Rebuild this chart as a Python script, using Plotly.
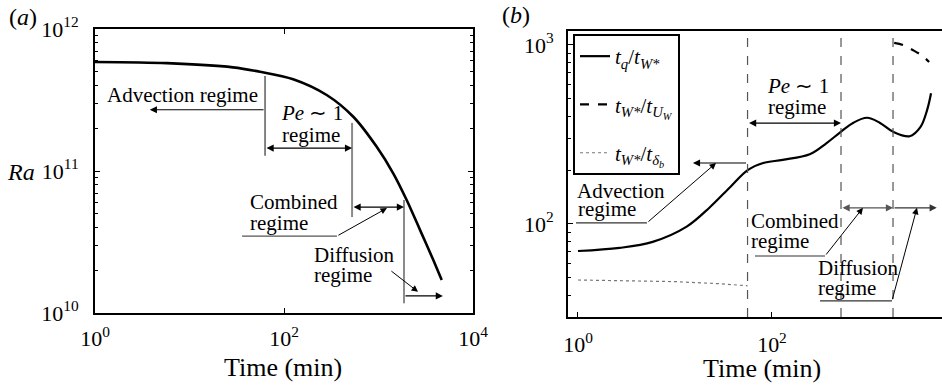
import numpy as np
import plotly.graph_objects as go

# ---------------- data ----------------
# Panel (a): Rayleigh number vs time
time_a = [1, 5.75, 28.8, 55.7, 125, 283, 541, 957, 1436, 1986, 2748, 3802, 4667]
ra_a = [5.86e11, 5.75e11, 5.37e11, 5.0e11, 4.43e11, 3.43e11, 2.41e11, 1.48e11,
        9.6e10, 6.25e10, 3.85e10, 2.36e10, 1.71e10]
bounds_a = [63, 525, 1860]

# Panel (b): time-scale ratios
time_q = [1, 2.69, 5.89, 13.2, 22.9, 37.2, 56.2, 81.3, 129, 245, 363, 501, 692,
          955, 1288, 1778, 2630, 3388, 3981, 4365]
tq_tw = [70.6, 73.5, 79.4, 96.6, 124, 161, 200, 219, 228, 245, 282, 324, 368,
         392, 368, 327, 309, 347, 434, 537]
time_u = [1820, 2240, 2820, 3550, 4170]
tw_tu = [1026, 1000, 938, 870, 804]
time_d = [1, 10, 30, 56]
tw_td = [48.6, 47.6, 46.3, 45.1]
bounds_b = [56, 515, 1770]

FONT = "Liberation Serif, Times New Roman, serif"
L = np.log10

fig = go.Figure()

# ---------------- traces ----------------
fig.add_trace(go.Scatter(x=time_a, y=ra_a, mode="lines", line=dict(color="black", width=2.6, shape="spline", smoothing=0.8),
                         showlegend=False, xaxis="x", yaxis="y", hoverinfo="skip"))

fig.add_trace(go.Scatter(x=time_q, y=tq_tw, mode="lines", line=dict(color="black", width=2.2, shape="spline"),
                         name="<i>t<sub>q</sub></i>/<i>t<sub>W*</sub></i>", legendgroup="a",
                         xaxis="x2", yaxis="y2", hoverinfo="skip"))
fig.add_trace(go.Scatter(x=time_u, y=tw_tu, mode="lines", line=dict(color="black", width=2.2, dash="dash", shape="spline"),
                         name="<i>t<sub>W*</sub></i>/<i>t<sub>U<sub>W</sub></sub></i>", legendgroup="b",
                         xaxis="x2", yaxis="y2", hoverinfo="skip"))
fig.add_trace(go.Scatter(x=time_d, y=tw_td, mode="lines", line=dict(color="#777777", width=1.2, dash="dot"),
                         name="<i>t<sub>W*</sub></i>/<i>t<sub>δ<sub>b</sub></sub></i>", legendgroup="c",
                         xaxis="x2", yaxis="y2", hoverinfo="skip"))


def seg(xs, ys, xa, ya, color="black", width=1, dash="solid"):
    fig.add_trace(go.Scatter(x=xs, y=ys, mode="lines", line=dict(color=color, width=width, dash=dash),
                             showlegend=False, xaxis=xa, yaxis=ya, hoverinfo="skip"))


# Panel (a) regime boundary lines
seg([bounds_a[0]] * 2, [4.67e11, 1.28e11], "x", "y", "#333333", 1.2)
seg([bounds_a[1]] * 2, [2.18e11, 4.74e10], "x", "y", "#8a8a8a", 2)
seg([bounds_a[2]] * 2, [6.25e10, 1.17e10], "x", "y", "#8a8a8a", 2)
# Combined regime leader line (a)
seg([36, 363], [3.48e10, 3.48e10], "x", "y", "#555555", 1.2)

# Panel (b) dashed boundaries
for b in bounds_b:
    seg([b, b], [30.2, 1197], "x2", "y2", "#555555", 1.2, "dash")
# leader lines (b)
seg([0.955, 5.14], [101.4, 101.4], "x2", "y2", "#333333", 1.2)
seg([66.8, 352], [66.2, 66.2], "x2", "y2", "#333333", 1.2)
seg([313, 1726], [37.2, 37.2], "x2", "y2", "#333333", 1.2)

ann = []


def arrow(x0, y0, x1, y1, xr, yr, double=False, color="black", width=1.1):
    """arrow from (x0,y0) to head at (x1,y1); values in data units"""
    d = dict(x=L(x1), y=L(y1), ax=L(x0), ay=L(y0), xref=xr, yref=yr, axref=xr, ayref=yr,
             text="", showarrow=True, arrowhead=2, arrowsize=1.3, arrowwidth=width, arrowcolor=color)
    if double:
        d.update(arrowside="end+start", startarrowhead=2, startarrowsize=1.3)
    ann.append(d)


def text(t, x, y, xr, yr, size=21, anchor="left"):
    ann.append(dict(text=t, x=L(x), y=L(y), xref=xr, yref=yr, showarrow=False,
                    xanchor=anchor, yanchor="middle", font=dict(family=FONT, size=size, color="black")))


# ---- Panel (a) annotations
arrow(63, 2.7e11, 3.8, 2.7e11, "x", "y")
arrow(63, 1.45e11, 525, 1.45e11, "x", "y", double=True)
arrow(525, 5.57e10, 1860, 5.57e10, "x", "y", double=True)
arrow(1860, 1.32e10, 4800, 1.32e10, "x", "y")
arrow(363, 3.48e10, 1230, 5.48e10, "x", "y", width=1)
arrow(1320, 2.01e10, 2620, 1.41e10, "x", "y", width=1)

text("Advection regime", 1.28, 3.43e11, "x", "y")
text("<i>Pe</i> ∼ 1", 88.5, 2.56e11, "x", "y")
text("regime", 90.7, 1.80e11, "x", "y")
text("Combined", 41.6, 6.05e10, "x", "y")
text("regime", 41.6, 4.31e10, "x", "y")
text("Diffusion", 198, 2.56e10, "x", "y")
text("regime", 198, 1.85e10, "x", "y")

# ---- Panel (b) annotations
arrow(56, 219, 15.3, 219, "x2", "y2")
arrow(56, 366, 515, 366, "x2", "y2", double=True)
arrow(515, 123, 1770, 123, "x2", "y2", double=True, color="#555555")
arrow(1770, 123, 5000, 123, "x2", "y2", color="#333333")
arrow(5.14, 101.4, 26.5, 219, "x2", "y2", width=1)
arrow(352, 66.2, 867, 123, "x2", "y2", width=1)
arrow(1726, 37.2, 3126, 123, "x2", "y2", width=1)

text("<i>Pe</i> ∼ 1", 84.7, 590, "x2", "y2")
text("regime", 86.7, 451, "x2", "y2")
text("Advection", 0.93, 153, "x2", "y2")
text("regime", 0.95, 121, "x2", "y2")
text("Combined", 58, 104, "x2", "y2")
text("regime", 58, 80.4, "x2", "y2")
text("Diffusion", 284, 56.8, "x2", "y2")
text("regime", 284, 43.9, "x2", "y2")

W, H = 942, 385


def paper_text(t, px, py, anchor, size=24):
    ann.append(dict(text=t, x=px / W, y=1 - py / H, xref="paper", yref="paper", showarrow=False,
                    xanchor=anchor, yanchor="middle", font=dict(family=FONT, size=size, color="black")))


paper_text("(<i>a</i>)", 7, 17, "left")
paper_text("(<i>b</i>)", 500, 15, "left")
paper_text("<i>Ra</i>", 21, 172, "center")
paper_text("Time (min)", 283, 367, "center", 26)
paper_text("Time (min)", 762, 368, "center", 26)

axis_common = dict(type="log", showgrid=False, zeroline=False, showline=True, linecolor="black", linewidth=2,
                   ticks="inside", tickcolor="black", ticklen=5, tickwidth=1, automargin=False,
                   tickfont=dict(family=FONT, size=22, color="black"))

minor_a = [k * 10 ** e for e in (10, 11) for k in range(2, 10)]
minor_b = [k * 10 ** e for e in (1, 2) for k in range(2, 10)]

fig.update_layout(
    width=W, height=H, margin=dict(l=0, r=0, t=0, b=0, autoexpand=False),
    paper_bgcolor="white", plot_bgcolor="white",
    font=dict(family=FONT, color="black"),
    annotations=ann,
    xaxis=dict(axis_common, domain=[95 / W, 473 / W], range=[0, 4], anchor="y", mirror="allticks",
               tickvals=[1, 100, 10000], ticktext=["10<sup>0</sup>", "10<sup>2</sup>", "10<sup>4</sup>"],
               ticklabelstandoff=5),
    yaxis=dict(axis_common, domain=[1 - 313 / H, 1 - 29 / H], range=[10, 12], anchor="x", mirror="allticks",
               tickvals=[1e10, 1e11, 1e12], ticktext=["10<sup>10</sup>", "10<sup>11</sup>", "10<sup>12</sup>"],
               ticklabelstandoff=10,
               minor=dict(tickvals=minor_a, ticks="inside", ticklen=3, tickcolor="black", tickwidth=1)),
    xaxis2=dict(axis_common, domain=[568 / W, 1.0], range=[-0.103, 3.753], anchor="y2", mirror=True,
                tickvals=[1, 100], ticktext=["10<sup>0</sup>", "10<sup>2</sup>"], ticklabelstandoff=7),
    yaxis2=dict(axis_common, domain=[1 - 317 / H, 1 - 31 / H], range=[1.48, 3.078], anchor="x2", mirror=False,
                tickvals=[100, 1000], ticktext=["10<sup>2</sup>", "10<sup>3</sup>"], ticklabelstandoff=8,
                minor=dict(tickvals=minor_b, ticks="inside", ticklen=3, tickcolor="black", tickwidth=1)),
    legend=dict(x=573 / W, y=1 - 34 / H, xanchor="left", yanchor="top", bordercolor="black", borderwidth=2,
                bgcolor="white", font=dict(family=FONT, size=21, color="black"), tracegroupgap=18,
                itemwidth=30),
    showlegend=True,
)

fig.write_html("out.html")
